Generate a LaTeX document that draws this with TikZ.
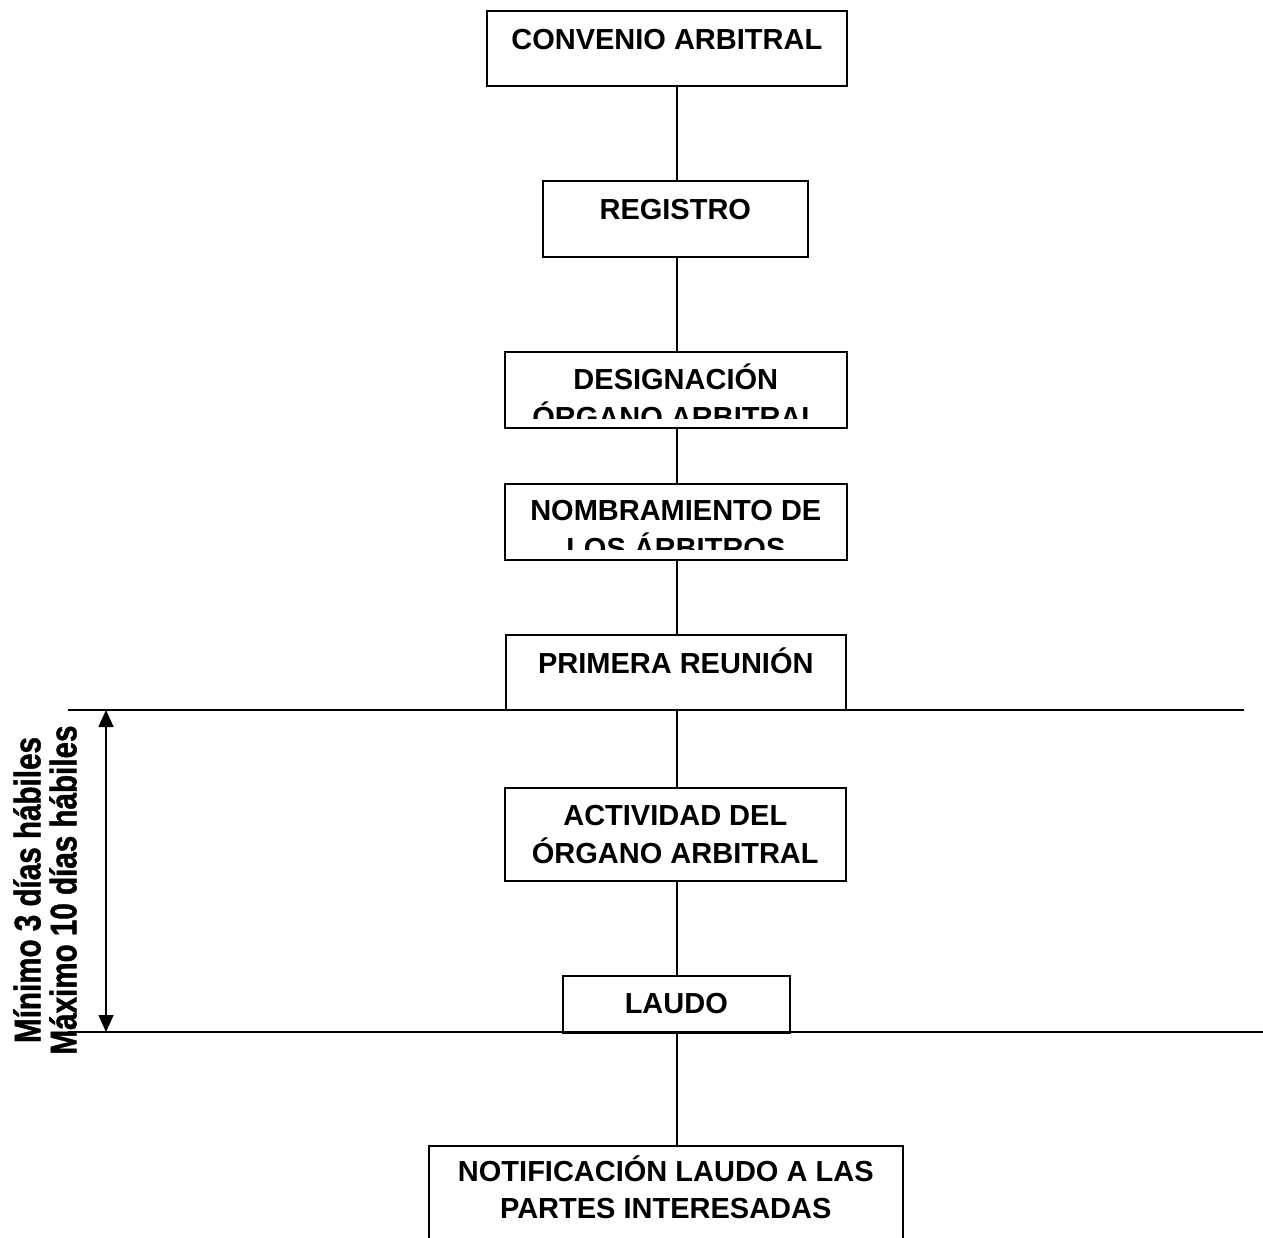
\documentclass[tikz,border=0pt]{standalone}
\usepackage{fontspec}
\setmainfont{Liberation Sans}
\newfontfamily\narrowfont[FakeStretch=0.8,FakeBold=1.2]{Liberation Sans}
\usetikzlibrary{arrows.meta,calc}
\begin{document}
\begin{tikzpicture}[x=1pt,y=-1pt,line width=1.6pt,
  box/.style={draw,line width=1.6pt,inner sep=0pt,anchor=north west},
  txt/.style={anchor=base,inner sep=0pt,font=\bfseries\fontsize{29}{38}\selectfont},
  conn/.style={draw,line width=1.5pt}]
\clip (0,0) rectangle (1263,1237);
\fill[white] (0,0) rectangle (1263,1237);
% boxes
\node[box,minimum width=360,minimum height=75] (conv) at (486,10) {};
\node[box,minimum width=265,minimum height=76] (reg) at (542,180) {};
\node[box,minimum width=342,minimum height=76] (des) at (504,351) {};
\node[box,minimum width=342,minimum height=76] (nom) at (504,483) {};
\node[box,minimum width=340,minimum height=75] (prim) at (505,634) {};
\node[box,minimum width=341,minimum height=93] (act) at (504,787) {};
\node[box,minimum width=227,minimum height=57] (laudo) at (562,975) {};
\node[box,minimum width=474,minimum height=110] (notif) at (428,1145) {};
% texts
\node[txt] (convT) at ($(conv.north)+(0,39)$) {CONVENIO ARBITRAL};
\node[txt] (regT) at ($(reg.north)+(0,39)$) {REGISTRO};
\begin{scope}
  \clip (des.north west) rectangle ($(des.south east)+(0,-10)$);
  \node[txt] (desT1) at ($(des.north)+(0,38)$) {DESIGNACIÓN};
  \node[txt] (desT2) at ($(des.north)+(0,76)$) {ÓRGANO ARBITRAL};
\end{scope}
\begin{scope}
  \clip (nom.north west) rectangle ($(nom.south east)+(0,-11)$);
  \node[txt] (nomT1) at ($(nom.north)+(0,37)$) {NOMBRAMIENTO DE};
  \node[txt] (nomT2) at ($(nom.north)+(0,75)$) {LOS ÁRBITROS};
\end{scope}
\node[txt] (primT) at ($(prim.north)+(0,39)$) {PRIMERA REUNIÓN};
\node[txt] (actT1) at ($(act.north)+(0,38)$) {ACTIVIDAD DEL};
\node[txt] (actT2) at ($(act.north)+(0,76)$) {ÓRGANO ARBITRAL};
\node[txt] (laudoT) at ($(laudo.north)+(0,38)$) {LAUDO};
\node[txt] (notifT1) at ($(notif.north)+(0,36)$) {NOTIFICACIÓN LAUDO A LAS};
\node[txt] (notifT2) at ($(notif.north)+(0,73)$) {PARTES INTERESADAS};
% spine connectors
\coordinate (sp) at (677,0);
\draw[conn] (conv.south -| sp) -- (reg.north -| sp);
\draw[conn] (reg.south -| sp) -- (des.north -| sp);
\draw[conn] (des.south -| sp) -- (nom.north -| sp);
\draw[conn] (nom.south -| sp) -- (prim.north -| sp);
\draw[conn] (prim.south -| sp) -- (act.north -| sp);
\draw[conn] (act.south -| sp) -- (laudo.north -| sp);
\draw[conn] (laudo.south -| sp) -- (notif.north -| sp);
% horizontal limits
\coordinate (h1l) at (68,710);
\coordinate (h1r) at (1244,710);
\coordinate (h2l) at (68,1032);
\coordinate (h2r) at (1263,1032);
\draw[conn] (h1l) -- (h1r);
\draw[conn] (h2l) -- (h2r);
% duration arrow
\coordinate (a1) at (106,710);
\coordinate (a2) at (106,1032);
\draw[conn,{Triangle[length=17pt,width=15pt]}-{Triangle[length=17pt,width=15pt]}] (a1) -- (a2);
\node[rotate=90,align=center,inner sep=0pt,
  font=\narrowfont\bfseries\fontsize{37}{36}\selectfont] (dur) at (45,890)
  {Mínimo 3 días hábiles\\Máximo 10 días hábiles};
\end{tikzpicture}
\end{document}
